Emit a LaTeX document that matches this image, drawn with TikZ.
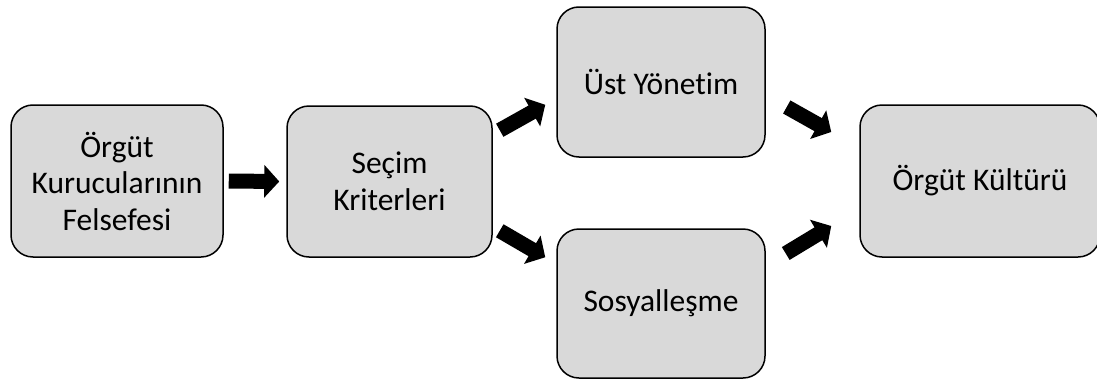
\documentclass[tikz,border=0pt]{standalone}
\usepackage{fontspec}
\setmainfont{Carlito}[Ligatures=NoCommon]
\usetikzlibrary{arrows.meta,calc}
\definecolor{boxgray}{RGB}{217,217,217}
\tikzset{
  box/.style={draw=black, line width=1.5pt, fill=boxgray, rounded corners=22pt,
    align=center, inner sep=0pt, font=\fontsize{31.5pt}{36.5pt}\selectfont},
  blockarrow/.style={line width=15pt, draw=black, -{Triangle[width=32pt,length=15pt]}}
}
\begin{document}
\begin{tikzpicture}[x=1pt,y=-1pt]
\useasboundingbox (0,0) rectangle (1097,380);
\node[box, minimum width=212pt, minimum height=152pt] (b1) at (117,181) {Örgüt\\Kurucularının\\Felsefesi};
\node[box, minimum width=205pt, minimum height=151pt] (b2) at (389.5,181.5) {Seçim\\Kriterleri};
\node[box, minimum width=208pt, minimum height=150pt] (b3) at (661,82) {Üst Yönetim};
\node[box, minimum width=208pt, minimum height=149pt] (b4) at (661,303.5) {Sosyalleşme};
\node[box, minimum width=240pt, minimum height=152pt] (b5) at (980,181) {Örgüt Kültürü};
\draw[blockarrow] ($(b1.east)+(5,0)$) -- ($(b2.west)+(-7,0)$);
\draw[blockarrow] ($(b2.north east)+(7,25)$) -- ($(b3.south west)+(-11,-53)$);
\draw[blockarrow] ($(b2.south east)+(7,-27)$) -- ($(b4.north west)+(-11,29)$);
\draw[blockarrow] ($(b3.east)+(21,25)$) -- ($(b5.west)+(-28,-49)$);
\draw[blockarrow] ($(b4.east)+(20,-50)$) -- ($(b5.west)+(-28,45)$);
\end{tikzpicture}
\end{document}
